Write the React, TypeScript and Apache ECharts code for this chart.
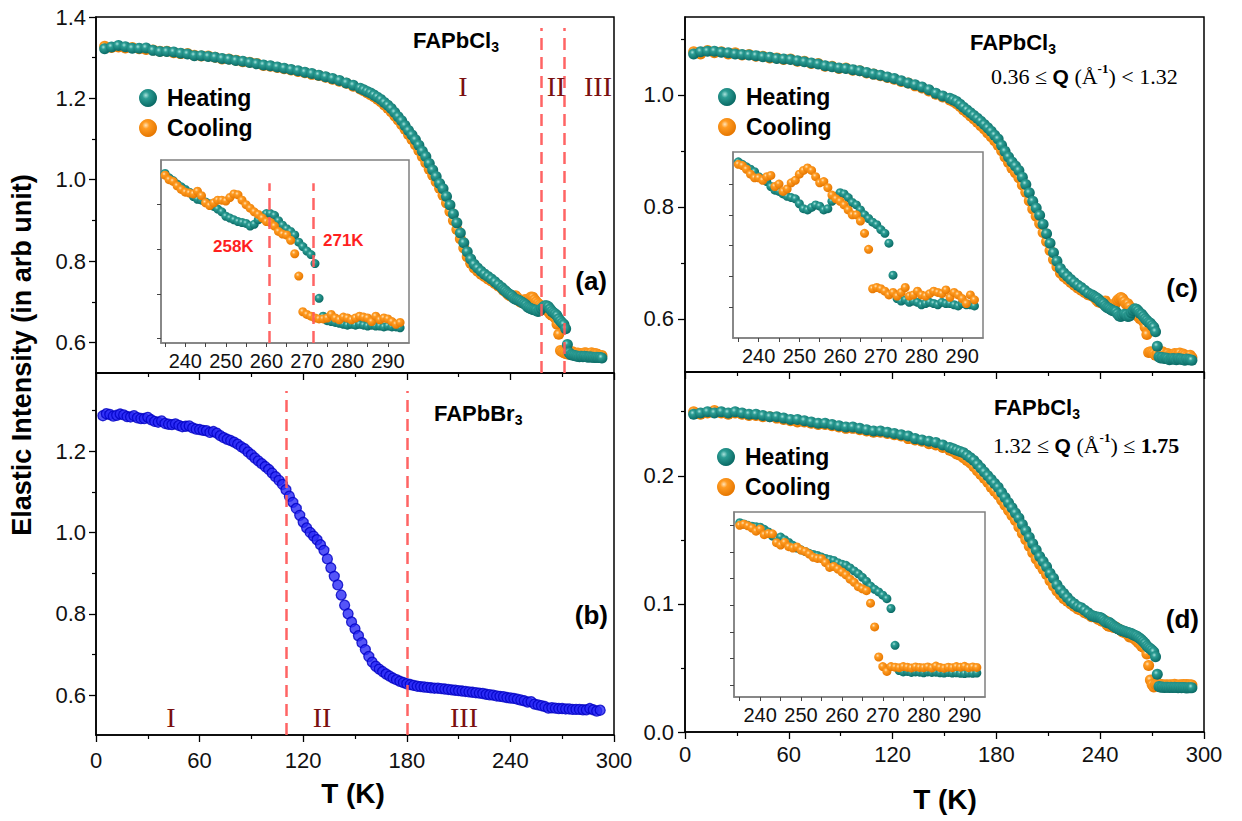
import { useEffect, useRef } from 'react';
import * as echarts from 'echarts';

// ---------- DATA ----------
const tempsLow = [5, 9, 13, 17, 21, 25, 29, 33, 37, 41, 45, 49, 53, 57, 61, 65, 69, 73, 77, 81, 85, 89, 93, 97, 101, 105, 109, 113, 117, 121, 125, 129, 133, 137, 141, 145, 149, 153];
const tempsMid = [155, 157, 159, 161, 163, 165, 167, 169, 171, 173, 175, 177, 179, 181, 183, 185, 187, 189, 191, 193, 195, 197, 199, 201, 203, 205, 207, 209, 211, 213, 215, 217, 219, 221, 223, 225, 227, 229, 231, 233, 235];
const tempsHigh = [236, 237, 238, 239, 240, 241, 242, 243, 244, 245, 246, 247, 248, 249, 250, 251, 252, 253, 254, 255, 256, 257, 258, 259, 260, 261, 262, 263, 264, 265, 266, 267, 268, 269, 270, 271, 272, 273, 274, 275, 276, 277, 278, 279, 280, 281, 282, 283, 284, 285, 286, 287, 288, 289, 290, 291, 292, 293];
const temps = tempsLow.concat(tempsMid, tempsHigh);

// Panel (a) FAPbCl3, total elastic intensity
const aHeating = [
  1.322, 1.326, 1.330, 1.327, 1.323, 1.323, 1.324, 1.318, 1.315, 1.315,
  1.314, 1.311, 1.309, 1.305, 1.305, 1.303, 1.301, 1.298, 1.296, 1.293,
  1.291, 1.288, 1.285, 1.282, 1.280, 1.277, 1.274, 1.271, 1.268, 1.264,
  1.261, 1.257, 1.253, 1.249, 1.244, 1.238, 1.232, 1.225,
  1.221, 1.217, 1.213, 1.208, 1.203, 1.197, 1.190, 1.183, 1.175, 1.165,
  1.155, 1.145, 1.133, 1.121, 1.110, 1.098, 1.085, 1.070, 1.057, 1.040,
  1.024, 1.008, 0.991, 0.978, 0.959, 0.938, 0.916, 0.894, 0.869, 0.845,
  0.823, 0.805, 0.792, 0.783, 0.775, 0.768, 0.762, 0.756, 0.749, 0.742, 0.735,
  0.730, 0.727, 0.723, 0.720, 0.717, 0.714, 0.709, 0.706, 0.705, 0.703,
  0.701, 0.698, 0.695, 0.692, 0.687, 0.685, 0.683, 0.681, 0.680, 0.679,
  0.676, 0.678, 0.683, 0.687, 0.690, 0.690, 0.688, 0.682, 0.677, 0.673,
  0.670, 0.666, 0.658, 0.653, 0.648, 0.644, 0.634, 0.595, 0.575, 0.570,
  0.569, 0.568, 0.567, 0.566, 0.565, 0.566, 0.565, 0.566, 0.565, 0.564,
  0.565, 0.564, 0.564, 0.563, 0.564, 0.563, 0.563, 0.562];
const aCooling = [
  1.328, 1.325, 1.326, 1.324, 1.325, 1.322, 1.320, 1.319, 1.316, 1.316,
  1.312, 1.310, 1.310, 1.306, 1.304, 1.304, 1.301, 1.297, 1.297, 1.294,
  1.290, 1.289, 1.286, 1.281, 1.279, 1.276, 1.273, 1.270, 1.266, 1.263,
  1.259, 1.256, 1.252, 1.247, 1.242, 1.237, 1.230, 1.223,
  1.219, 1.214, 1.209, 1.204, 1.198, 1.192, 1.184, 1.176, 1.167, 1.157,
  1.147, 1.136, 1.124, 1.111, 1.099, 1.086, 1.072, 1.057, 1.042, 1.026,
  1.011, 0.995, 0.979, 0.962, 0.943, 0.922, 0.900, 0.878, 0.855, 0.832,
  0.811, 0.795, 0.783, 0.775, 0.768, 0.762, 0.756, 0.751, 0.745, 0.739, 0.733,
  0.728, 0.726, 0.721, 0.717, 0.714, 0.713, 0.712, 0.715, 0.710, 0.702,
  0.699, 0.702, 0.705, 0.705, 0.704, 0.708, 0.712, 0.711, 0.705, 0.700,
  0.696, 0.692, 0.689, 0.685, 0.681, 0.680, 0.676, 0.670, 0.667, 0.666,
  0.660, 0.645, 0.620, 0.580, 0.577, 0.575, 0.573, 0.572, 0.572, 0.573,
  0.577, 0.573, 0.571, 0.574, 0.573, 0.571, 0.573, 0.575, 0.574, 0.573,
  0.569, 0.575, 0.571, 0.573, 0.572, 0.569, 0.566, 0.568];

// Panel (b) FAPbBr3
const tempsB = [4, 6, 8, 10, 12, 14, 16, 18, 20, 22, 24, 26, 28, 30, 32, 34, 36, 38, 40, 42, 44, 46, 48, 50,
  52, 54, 56, 58, 60, 62, 64, 66, 68, 70, 72, 74, 76, 78, 80, 82, 84, 86, 88, 90, 92, 94, 96,
  98, 100, 102, 104, 106, 108, 110, 112, 114, 116, 118, 120, 122, 124, 126, 128, 130, 132, 134, 136, 138, 140,
  142, 144, 146, 148, 150, 152, 154, 156, 158, 160, 162, 164, 166, 168, 170, 172, 174, 176, 178, 180,
  182, 184, 186, 188, 190, 192, 194, 196, 198, 200, 202, 204, 206, 208, 210, 212, 214, 216, 218, 220,
  222, 224, 226, 228, 230, 232, 234, 236, 238, 240, 242, 244, 246, 248, 250, 252, 254, 256, 258, 260,
  262, 264, 266, 268, 270, 272, 274, 276, 278, 280, 282, 284, 286, 288, 290, 292];
const bValues = [
  1.287, 1.292, 1.290, 1.286, 1.288, 1.291, 1.289, 1.285, 1.284, 1.287,
  1.282, 1.280, 1.280, 1.283, 1.277, 1.273, 1.271, 1.274, 1.268, 1.266,
  1.265, 1.267, 1.263, 1.260, 1.261, 1.262, 1.257, 1.254, 1.253, 1.251,
  1.250, 1.246, 1.248, 1.244, 1.238, 1.233, 1.229, 1.226, 1.222, 1.217,
  1.211, 1.206, 1.198, 1.191, 1.183, 1.176, 1.169,
  1.162, 1.155, 1.146, 1.137, 1.128, 1.118, 1.105, 1.089, 1.074, 1.059,
  1.042, 1.025, 1.011, 1.000, 0.991, 0.982, 0.970, 0.956, 0.935, 0.913,
  0.892, 0.871, 0.846, 0.821, 0.800, 0.780, 0.763, 0.746, 0.729, 0.712,
  0.695, 0.681, 0.671, 0.664, 0.658, 0.652, 0.647, 0.642, 0.638, 0.634,
  0.631, 0.628,
  0.626, 0.624, 0.622, 0.621, 0.620, 0.619, 0.618, 0.617, 0.617, 0.616,
  0.615, 0.614, 0.613, 0.612, 0.611, 0.610, 0.609, 0.608, 0.607, 0.606,
  0.605, 0.604, 0.602, 0.601, 0.600, 0.598, 0.597, 0.596, 0.594, 0.593,
  0.592, 0.590, 0.588, 0.586, 0.583, 0.584, 0.578, 0.576, 0.574, 0.572,
  0.568, 0.569, 0.568, 0.567, 0.567, 0.566, 0.566, 0.565, 0.565, 0.565,
  0.564, 0.564, 0.567, 0.564, 0.561, 0.563];

// Panel (c) FAPbCl3, 0.36 <= Q < 1.32
const cHeating = [
  1.073, 1.077, 1.078, 1.078, 1.076, 1.075, 1.073, 1.072, 1.071, 1.070,
  1.068, 1.067, 1.065, 1.064, 1.063, 1.061, 1.059, 1.057, 1.055, 1.052,
  1.050, 1.048, 1.047, 1.045, 1.043, 1.040, 1.037, 1.035, 1.032, 1.029,
  1.025, 1.021, 1.018, 1.014, 1.009, 1.003, 0.998, 0.994,
  0.991, 0.988, 0.983, 0.978, 0.973, 0.968, 0.963, 0.958, 0.953, 0.947,
  0.941, 0.935, 0.928, 0.921, 0.910, 0.899, 0.889, 0.880, 0.873, 0.865,
  0.853, 0.840, 0.825, 0.810, 0.798, 0.785, 0.769, 0.752, 0.735, 0.718,
  0.703, 0.690, 0.682, 0.676, 0.670, 0.665, 0.660, 0.656, 0.651, 0.646, 0.643,
  0.641, 0.639, 0.637, 0.635, 0.631, 0.629, 0.627, 0.623, 0.620, 0.619,
  0.617, 0.615, 0.614, 0.613, 0.609, 0.605, 0.604, 0.606, 0.608, 0.607,
  0.604, 0.605, 0.611, 0.615, 0.618, 0.617, 0.614, 0.610, 0.608, 0.604,
  0.600, 0.597, 0.594, 0.592, 0.588, 0.585, 0.577, 0.551, 0.532, 0.530,
  0.531, 0.529, 0.530, 0.529, 0.527, 0.528, 0.529, 0.528, 0.527, 0.529,
  0.528, 0.528, 0.527, 0.526, 0.528, 0.527, 0.527, 0.526];
const cCooling = [
  1.077, 1.073, 1.079, 1.075, 1.077, 1.073, 1.075, 1.071, 1.072, 1.069,
  1.069, 1.066, 1.066, 1.063, 1.064, 1.060, 1.060, 1.056, 1.056, 1.051,
  1.051, 1.047, 1.048, 1.044, 1.043, 1.039, 1.037, 1.034, 1.031, 1.028,
  1.024, 1.021, 1.016, 1.012, 1.007, 1.001, 0.996, 0.991,
  0.988, 0.984, 0.979, 0.973, 0.968, 0.962, 0.957, 0.951, 0.945, 0.939,
  0.932, 0.925, 0.918, 0.910, 0.900, 0.889, 0.879, 0.869, 0.861, 0.852,
  0.839, 0.826, 0.811, 0.796, 0.783, 0.770, 0.754, 0.738, 0.722, 0.706,
  0.693, 0.682, 0.675, 0.670, 0.665, 0.660, 0.655, 0.651, 0.647, 0.643, 0.641,
  0.640, 0.637, 0.633, 0.630, 0.630, 0.628, 0.631, 0.632, 0.623, 0.625,
  0.619, 0.621, 0.626, 0.628, 0.633, 0.636, 0.638, 0.636, 0.631, 0.626,
  0.627, 0.622, 0.616, 0.613, 0.611, 0.608, 0.604, 0.600, 0.600, 0.595,
  0.585, 0.572, 0.540, 0.541, 0.540, 0.538, 0.535, 0.537, 0.534, 0.537,
  0.541, 0.534, 0.535, 0.538, 0.535, 0.534, 0.536, 0.538, 0.537, 0.536,
  0.539, 0.533, 0.537, 0.535, 0.532, 0.528, 0.535, 0.531];

// Panel (d) FAPbCl3, 1.32 <= Q <= 1.75
const dHeating = [
  0.248, 0.249, 0.250, 0.249, 0.250, 0.249, 0.250, 0.249, 0.248, 0.248,
  0.247, 0.246, 0.246, 0.245, 0.244, 0.244, 0.243, 0.242, 0.241, 0.241,
  0.240, 0.239, 0.238, 0.238, 0.237, 0.236, 0.235, 0.235, 0.234, 0.233,
  0.232, 0.231, 0.229, 0.228, 0.227, 0.226, 0.224, 0.222,
  0.221, 0.220, 0.219, 0.218, 0.216, 0.214, 0.212, 0.209, 0.206, 0.203,
  0.200, 0.197, 0.194, 0.191, 0.187, 0.183, 0.179, 0.175, 0.171, 0.167,
  0.162, 0.157, 0.152, 0.147, 0.142, 0.137, 0.133, 0.129, 0.124, 0.120,
  0.115, 0.111, 0.108, 0.105, 0.102, 0.100, 0.098, 0.097, 0.095, 0.093, 0.091,
  0.0905, 0.0900, 0.0897, 0.0895, 0.0893, 0.0885, 0.0875, 0.0860, 0.0852, 0.0856,
  0.0846, 0.0836, 0.0825, 0.0815, 0.0808, 0.0802, 0.0795, 0.0791, 0.0787, 0.0781,
  0.0776, 0.0772, 0.0768, 0.0760, 0.0754, 0.0750, 0.0740, 0.0729, 0.0718, 0.0705,
  0.0690, 0.0672, 0.0660, 0.0650, 0.0638, 0.0625, 0.0588, 0.0450, 0.0355, 0.0350,
  0.0352, 0.0348, 0.0350, 0.0349, 0.0347, 0.0350, 0.0348, 0.0349, 0.0347, 0.0346,
  0.0348, 0.0346, 0.0347, 0.0345, 0.0344, 0.0346, 0.0345, 0.0346];
const dCooling = [
  0.250, 0.248, 0.249, 0.251, 0.249, 0.248, 0.249, 0.248, 0.247, 0.247,
  0.246, 0.246, 0.245, 0.244, 0.243, 0.242, 0.242, 0.241, 0.240, 0.240,
  0.239, 0.238, 0.237, 0.237, 0.236, 0.235, 0.234, 0.234, 0.233, 0.232,
  0.231, 0.229, 0.228, 0.227, 0.225, 0.224, 0.222, 0.220,
  0.219, 0.217, 0.216, 0.214, 0.212, 0.210, 0.207, 0.204, 0.201, 0.198,
  0.195, 0.191, 0.188, 0.185, 0.181, 0.177, 0.173, 0.169, 0.165, 0.160,
  0.155, 0.150, 0.145, 0.140, 0.135, 0.131, 0.127, 0.123, 0.118, 0.114,
  0.110, 0.107, 0.104, 0.102, 0.100, 0.098, 0.096, 0.095, 0.093, 0.092, 0.090,
  0.0904, 0.0898, 0.0890, 0.0878, 0.0886, 0.0865, 0.0869, 0.0868, 0.0835, 0.0826,
  0.0836, 0.0820, 0.0815, 0.0819, 0.0807, 0.0802, 0.0792, 0.0780, 0.0776, 0.0775,
  0.0760, 0.0742, 0.0746, 0.0736, 0.0725, 0.0714, 0.0698, 0.0686, 0.0670, 0.0662,
  0.0655, 0.0608, 0.0519, 0.0406, 0.0370, 0.0352, 0.0370, 0.0368, 0.0366, 0.0370,
  0.0368, 0.0365, 0.0369, 0.0367, 0.0366, 0.0369, 0.0365, 0.0372, 0.0367, 0.0364,
  0.0368, 0.0366, 0.0370, 0.0368, 0.0371, 0.0366, 0.0369, 0.0367];

// transition markers (K)
const transitionsA = [258, 271];
const transitionsB = [110, 180];
const insetTransitionsA = [260.7, 271.5];

// tick labels
const xTicksMain = [0, 60, 120, 180, 240, 300];
const xTicksInset = [240, 250, 260, 270, 280, 290];
const xMinorInset = [235, 240, 245, 250, 255, 260, 265, 270, 275, 280, 285, 290];
const yTicksA = [0.6, 0.8, 1.0, 1.2, 1.4];
const yMinorA = [0.7, 0.9, 1.1, 1.3];
const yTicksB = [0.6, 0.8, 1.0, 1.2];
const yMinorB = [0.7, 0.9, 1.1, 1.3];
const yTicksC = [0.6, 0.8, 1.0];
const yMinorC = [0.7, 0.9, 1.1];
const yTicksD = [0.0, 0.1, 0.2];
const yMinorD = [0.05, 0.15, 0.25];
const yTicksInsetA = [0.55, 0.6, 0.65, 0.7];
const yTicksInsetC = [0.525, 0.55, 0.575, 0.6, 0.625];
const yTicksInsetD = [0.03, 0.04, 0.05, 0.06, 0.07, 0.08, 0.09];

// ---------- helpers ----------
const SANS = '"Liberation Sans", Arial, sans-serif';
const SERIF = '"Liberation Serif", "Times New Roman", serif';

const pairs = (ts: number[], vs: number[]) => ts.map((t, i) => [t, vs[i]]);
const insetPairs = (ts: number[], vs: number[]) => pairs(ts, vs).filter((p) => p[0] >= 235);

export default function App() {
  const ref = useRef<HTMLDivElement>(null);

  useEffect(() => {
    if (!ref.current) return;
    const chart = echarts.init(ref.current, undefined, { renderer: 'svg' });

    const tealFill = new echarts.graphic.RadialGradient(0.38, 0.35, 0.65, [
      { offset: 0, color: '#a9e2dc' },
      { offset: 0.3, color: '#2c9d94' },
      { offset: 1, color: '#0a6a65' },
    ]);
    const orangeFill = new echarts.graphic.RadialGradient(0.38, 0.35, 0.65, [
      { offset: 0, color: '#ffe3b8' },
      { offset: 0.3, color: '#ff9b22' },
      { offset: 1, color: '#e67700' },
    ]);

    const grids = [
      { left: 96, top: 17, width: 518, height: 356, show: true, borderColor: '#000', borderWidth: 1.5, backgroundColor: 'transparent' },
      { left: 96, top: 373, width: 518, height: 362, show: true, borderColor: '#000', borderWidth: 1.5, backgroundColor: 'transparent' },
      { left: 685, top: 17, width: 519, height: 355, show: true, borderColor: '#000', borderWidth: 1.5, backgroundColor: 'transparent' },
      { left: 685, top: 372, width: 519, height: 360, show: true, borderColor: '#000', borderWidth: 1.5, backgroundColor: 'transparent' },
      { left: 161, top: 160, width: 248, height: 183, show: true, borderColor: '#808080', borderWidth: 1.5, backgroundColor: '#fff' },
      { left: 733, top: 152, width: 250, height: 186, show: true, borderColor: '#808080', borderWidth: 1.5, backgroundColor: '#fff' },
      { left: 734, top: 512, width: 251, height: 185, show: true, borderColor: '#808080', borderWidth: 1.5, backgroundColor: '#fff' },
    ];

    const xMain = (grid: number, showLabel: boolean, margin: number) => ({
      type: 'value', gridIndex: grid, min: 0, max: 300, interval: 60,
      axisLine: { show: true, onZero: false, lineStyle: { color: '#000', width: 1.5 } },
      axisTick: { show: true, inside: false, length: 7, lineStyle: { color: '#000', width: 1.3 } },
      minorTick: { show: true, splitNumber: 2, length: 4, lineStyle: { color: '#000', width: 1.2 } },
      axisLabel: { show: showLabel, margin, fontSize: 22, fontFamily: SANS, color: '#111', customValues: xTicksMain },
      splitLine: { show: false },
      minorSplitLine: { show: false },
    });
    const xInset = (grid: number, min: number, max: number) => ({
      type: 'value', gridIndex: grid, min, max,
      axisLine: { show: true, onZero: false, lineStyle: { color: '#808080', width: 1.5 } },
      axisTick: { show: true, inside: false, length: 4, customValues: xMinorInset, lineStyle: { color: '#444', width: 1 } },
      axisLabel: { show: true, margin: 8, fontSize: 20, fontFamily: SANS, color: '#111', customValues: xTicksInset },
      splitLine: { show: false },
    });
    const yMajor = (grid: number, min: number, max: number, ticks: number[], margin: number) => ({
      type: 'value', gridIndex: grid, min, max, position: 'left',
      axisLine: { show: true, onZero: false, lineStyle: { color: '#000', width: 1.5 } },
      axisTick: { show: true, inside: false, length: 7, customValues: ticks, lineStyle: { color: '#000', width: 1.3 } },
      axisLabel: { show: true, margin, customValues: ticks, fontSize: 22, fontFamily: SANS, color: '#111', formatter: (v: number) => v.toFixed(1) },
      splitLine: { show: false },
    });
    const yMinor = (grid: number, min: number, max: number, ticks: number[]) => ({
      type: 'value', gridIndex: grid, min, max, position: 'left',
      axisLine: { show: false, onZero: false },
      axisTick: { show: true, inside: false, length: 4, customValues: ticks, lineStyle: { color: '#000', width: 1.2 } },
      axisLabel: { show: false },
      splitLine: { show: false },
    });
    const yInset = (grid: number, min: number, max: number, ticks: number[]) => ({
      type: 'value', gridIndex: grid, min, max, position: 'left',
      axisLine: { show: true, onZero: false, lineStyle: { color: '#808080', width: 1.5 } },
      axisTick: { show: true, inside: false, length: 4, customValues: ticks, lineStyle: { color: '#444', width: 1 } },
      axisLabel: { show: false },
      splitLine: { show: false },
    });

    const yRange = {
      a: [0.525, 1.4], b: [0.502, 1.392], c: [0.505, 1.139], d: [0, 0.281],
      ia: [0.545, 0.75], ic: [0.5, 0.651], id: [0.0256, 0.095],
    };

    const xAxis = [
      xMain(0, false, 14), xMain(1, true, 14), xMain(2, false, 12), xMain(3, true, 11),
      xInset(4, 234, 295.2), xInset(5, 233.7, 295.1), xInset(6, 233.6, 295),
    ];
    const yAxis = [
      yMajor(0, yRange.a[0], yRange.a[1], yTicksA, 10), yMinor(0, yRange.a[0], yRange.a[1], yMinorA),
      yMajor(1, yRange.b[0], yRange.b[1], yTicksB, 10), yMinor(1, yRange.b[0], yRange.b[1], yMinorB),
      yMajor(2, yRange.c[0], yRange.c[1], yTicksC, 11), yMinor(2, yRange.c[0], yRange.c[1], yMinorC),
      yMajor(3, yRange.d[0], yRange.d[1], yTicksD, 11), yMinor(3, yRange.d[0], yRange.d[1], yMinorD),
      yInset(4, yRange.ia[0], yRange.ia[1], yTicksInsetA),
      yInset(5, yRange.ic[0], yRange.ic[1], yTicksInsetC),
      yInset(6, yRange.id[0], yRange.id[1], yTicksInsetD),
    ];

    const dashStyle = { color: '#ff5c5c', type: [12, 7], width: 2.5, opacity: 0.95 };
    const vLines = (xs: number[], y0: number, y1: number) => ({
      silent: true, symbol: ['none', 'none'], label: { show: false }, lineStyle: dashStyle,
      emphasis: { disabled: true },
      data: xs.map((x) => [{ coord: [x, y0] }, { coord: [x, y1] }]),
    });

    const sc = (name: string, xi: number, yi: number, data: number[][], fill: any, size: number, extra: any = {}) => ({
      type: 'scatter', name, xAxisIndex: xi, yAxisIndex: yi, data, symbol: 'circle', symbolSize: size,
      itemStyle: { color: fill, opacity: 1 }, emphasis: { disabled: true }, clip: true, ...extra,
    });

    const series = [
      sc('Cooling', 0, 0, pairs(temps, aCooling), orangeFill, 11, { markLine: vLines(transitionsA, yRange.a[0], 1.373) }),
      sc('Heating', 0, 0, pairs(temps, aHeating), tealFill, 11),
      sc('FAPbBr3', 1, 2, pairs(tempsB, bValues), '#2424f4', 10, {
        itemStyle: { color: '#2a2af6', borderColor: '#0000c4', borderWidth: 1.3 },
        markLine: vLines(transitionsB, yRange.b[0], 1.348),
      }),
      sc('Cooling', 2, 4, pairs(temps, cCooling), orangeFill, 11),
      sc('Heating', 2, 4, pairs(temps, cHeating), tealFill, 11),
      sc('Cooling', 3, 6, pairs(temps, dCooling), orangeFill, 11),
      sc('Heating', 3, 6, pairs(temps, dHeating), tealFill, 11),
      sc('Heating', 4, 8, insetPairs(temps, aHeating), tealFill, 9, { markLine: vLines(insetTransitionsA, yRange.ia[0], 0.724) }),
      sc('Cooling', 4, 8, insetPairs(temps, aCooling), orangeFill, 9),
      sc('Heating', 5, 9, insetPairs(temps, cHeating), tealFill, 9),
      sc('Cooling', 5, 9, insetPairs(temps, cCooling), orangeFill, 9),
      sc('Heating', 6, 10, insetPairs(temps, dHeating), tealFill, 9),
      sc('Cooling', 6, 10, insetPairs(temps, dCooling), orangeFill, 9),
    ];

    const legend = (left: number, top: number) => ({
      left, top, orient: 'vertical', itemGap: 0, itemWidth: 18, itemHeight: 18, icon: 'circle', padding: 0,
      selectedMode: false, data: ['Heating', 'Cooling'],
      textStyle: { fontSize: 23, fontWeight: 'bold', fontFamily: SANS, color: '#000', lineHeight: 30, padding: [0, 0, 0, 5] },
    });

    const txt = (text: string, x: number, y: number, font: string, fill: string, align = 'left', extra: any = {}) => ({
      type: 'text', x, y, silent: true, z: 100,
      style: { text, font, fill, textAlign: align, align, textVerticalAlign: 'middle', verticalAlign: 'middle' },
      ...extra,
    });
    const formula = (x: number, y: number, name: string) => ({
      type: 'text', x, y, silent: true, z: 100,
      style: {
        text: `{m|${name}}{s|3}`, align: 'left', textAlign: 'left', verticalAlign: 'middle', textVerticalAlign: 'middle',
        rich: {
          m: { fontSize: 22, fontWeight: 'bold', fontFamily: SANS, color: '#1f8c1f', lineHeight: 28, verticalAlign: 'middle' },
          s: { fontSize: 14, fontWeight: 'bold', fontFamily: SANS, color: '#1f8c1f', lineHeight: 14, verticalAlign: 'bottom' },
        },
      },
    });
    const qRange = (x: number, y: number, lo: string, op1: string, op2: string, hi: string, hiBold: boolean) => ({
      type: 'text', x, y, silent: true, z: 100,
      style: {
        text: `{t|${lo} ${op1} }{q|Q}{t| (Å}{u|-1}{t|) ${op2} }{${hiBold ? 'h' : 't'}|${hi}}`,
        align: 'left', textAlign: 'left', verticalAlign: 'middle', textVerticalAlign: 'middle',
        rich: {
          t: { fontSize: 22, fontFamily: SERIF, color: '#000', lineHeight: 28, verticalAlign: 'middle' },
          h: { fontSize: 22, fontFamily: SERIF, fontWeight: 'bold', color: '#000', lineHeight: 28, verticalAlign: 'middle' },
          q: { fontSize: 21, fontFamily: SANS, fontWeight: 'bold', color: '#000', lineHeight: 28, verticalAlign: 'middle' },
          u: { fontSize: 13, fontFamily: SERIF, fontWeight: 'bold', color: '#000', lineHeight: 13, verticalAlign: 'top' },
        },
      },
    });

    const region = `28px ${SERIF}`;
    const regionColor = '#7a0f0f';
    const panelFont = `bold 26px ${SANS}`;

    const graphic = [
      txt('Elastic Intensity (in arb unit)', 22, 355, `bold 27px ${SANS}`, '#000', 'center', { rotation: Math.PI / 2 }),
      txt('T (K)', 353, 793, `bold 28px ${SANS}`, '#000', 'center'),
      txt('T (K)', 945, 799, `bold 28px ${SANS}`, '#000', 'center'),
      formula(413, 40, 'FAPbCl'),
      formula(434, 413, 'FAPbBr'),
      formula(970, 42, 'FAPbCl'),
      formula(994, 407, 'FAPbCl'),
      qRange(991, 76, '0.36', '≤', '<', '1.32', false),
      qRange(993, 445, '1.32', '≤', '≤', '1.75', true),
      txt('I', 463, 86, region, regionColor, 'center'),
      txt('II', 556, 86, region, regionColor, 'center'),
      txt('III', 598, 86, region, regionColor, 'center'),
      txt('I', 171, 717, region, regionColor, 'center'),
      txt('II', 322, 717, region, regionColor, 'center'),
      txt('III', 464, 717, region, regionColor, 'center'),
      txt('(a)', 607, 281, panelFont, '#000', 'right'),
      txt('(b)', 608, 615, panelFont, '#000', 'right'),
      txt('(c)', 1198, 288, panelFont, '#000', 'right'),
      txt('(d)', 1199, 619, panelFont, '#000', 'right'),
      txt('258K', 213, 246, `bold 17px ${SANS}`, '#ff1f1f', 'left'),
      txt('271K', 323, 240, `bold 17px ${SANS}`, '#ff1f1f', 'left'),
    ];

    chart.setOption({
      animation: false,
      backgroundColor: '#fff',
      grid: grids,
      xAxis,
      yAxis,
      legend: [legend(139, 83), legend(718, 82), legend(717, 442)],
      series,
      graphic,
    });

    return () => chart.dispose();
  }, []);

  return <div ref={ref} style={{ position: 'fixed', left: 0, top: 0, width: 1242, height: 821, background: '#fff' }} />;
}
